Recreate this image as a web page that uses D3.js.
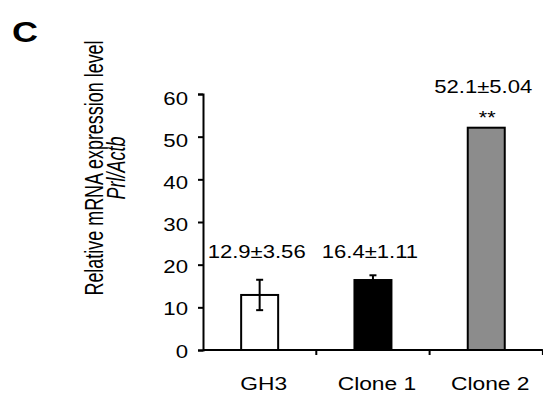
<!DOCTYPE html>
<html>
<head>
<meta charset="utf-8">
<script src="https://cdn.jsdelivr.net/npm/d3@7"></script>
<style>
  body { margin: 0; background: #fff; }
  svg { display: block; font-family: "Liberation Sans", Arial, sans-serif; }
</style>
</head>
<body>
<div id="chart"></div>
<script>
const categories = ['GH3', 'Clone 1', 'Clone 2'];
const means = [12.9, 16.4, 52.1];
const errors = [3.56, 1.11, 5.04];
const showErrorBar = [true, true, false];   // no bar drawn for Clone 2 in the figure
const valueLabels = ['12.9±3.56', '16.4±1.11', '52.1±5.04'];
const significance = ['', '', '**'];
const yTicks = [0, 10, 20, 30, 40, 50, 60];
const fills = ['#ffffff', '#000000', '#8c8c8c'];

const width = 543, height = 399;
const margin = { top: 94, right: 0, bottom: 49, left: 203 };
// the source figure is stretched sideways, text included
const sx = 1.2;

const svg = d3.select('#chart')
  .append('svg')
  .attr('width', width)
  .attr('height', height);

function label(parent, px, py, txt, size, anchor) {
  return parent.append('text')
    .attr('transform', `translate(${px},${py}) scale(${sx},1)`)
    .attr('text-anchor', anchor || 'middle')
    .attr('fill', '#000')
    .style('font-size', size + 'px')
    .text(txt);
}

const x = d3.scaleBand()
  .domain(categories)
  .range([margin.left, margin.left + 3 * 113.3]);

const y = d3.scaleLinear()
  .domain([0, 60])
  .range([height - margin.bottom, margin.top]);

const barW = 37;
const cx = d => x(d) + x.bandwidth() / 2;

// Panel letter
label(svg, 12, 42, 'C', 30, 'start').style('font-weight', 'bold');

// Y axis
const yAxis = svg.append('g')
  .attr('transform', `translate(${margin.left},0)`)
  .call(d3.axisLeft(y).tickValues(yTicks).tickSize(5).tickFormat(''));
yAxis.select('.domain').attr('stroke-width', 2);
yAxis.selectAll('.tick line').attr('stroke-width', 2);
yAxis.selectAll('.tick').each(function(d) {
  label(d3.select(this), -15, 7 + d * 0.065, d, 18.5, 'end');
});

// X axis: ticks sit between the categories
const xAxisG = svg.append('g')
  .attr('transform', `translate(0,${y(0)})`);
xAxisG.append('line')
  .attr('x1', x.range()[0])
  .attr('x2', x.range()[1])
  .attr('stroke', '#000')
  .attr('stroke-width', 2);
xAxisG.selectAll('.sep')
  .data(categories)
  .enter()
  .append('line')
  .attr('x1', d => x(d) + x.bandwidth())
  .attr('x2', d => x(d) + x.bandwidth())
  .attr('y1', 0)
  .attr('y2', 5)
  .attr('stroke', '#000')
  .attr('stroke-width', 2);
categories.forEach(c => label(xAxisG, cx(c) + 4, 40, c, 19));

// Bars
svg.selectAll('.bar')
  .data(categories)
  .enter()
  .append('rect')
  .attr('x', d => cx(d) - barW / 2)
  .attr('width', barW)
  .attr('y', (d, i) => y(means[i]))
  .attr('height', (d, i) => y(0) - y(means[i]))
  .attr('fill', (d, i) => fills[i])
  .attr('stroke', '#000')
  .attr('stroke-width', 2);

// Error bars
categories.forEach((c, i) => {
  if (!showErrorBar[i]) return;
  const g = svg.append('g').attr('stroke', '#000').attr('stroke-width', 2);
  g.append('line')
    .attr('x1', cx(c)).attr('x2', cx(c))
    .attr('y1', y(means[i] - errors[i])).attr('y2', y(means[i] + errors[i]));
  [means[i] - errors[i], means[i] + errors[i]].forEach(v => {
    g.append('line')
      .attr('x1', cx(c) - 3.5).attr('x2', cx(c) + 3.5)
      .attr('y1', y(v)).attr('y2', y(v));
  });
});

// Value labels and significance marks
categories.forEach((c, i) => {
  label(svg, cx(c) - 3, i === 2 ? 93 : 258, valueLabels[i], 18.4);
  if (significance[i]) label(svg, cx(c) + 1, 124, significance[i], 18);
});

// Y axis title (glyphs are thicker across than along the line in the source)
const titleG = svg.append('g')
  .attr('transform', 'translate(103,168) scale(1.38,0.97) rotate(-90)');
titleG.append('text')
  .attr('text-anchor', 'middle')
  .style('font-size', '18.5px')
  .text('Relative mRNA expression level');
titleG.append('text')
  .attr('y', 16)
  .attr('text-anchor', 'middle')
  .style('font-size', '18.5px')
  .style('font-style', 'italic')
  .text('Prl/Actb');
</script>
</body>
</html>
